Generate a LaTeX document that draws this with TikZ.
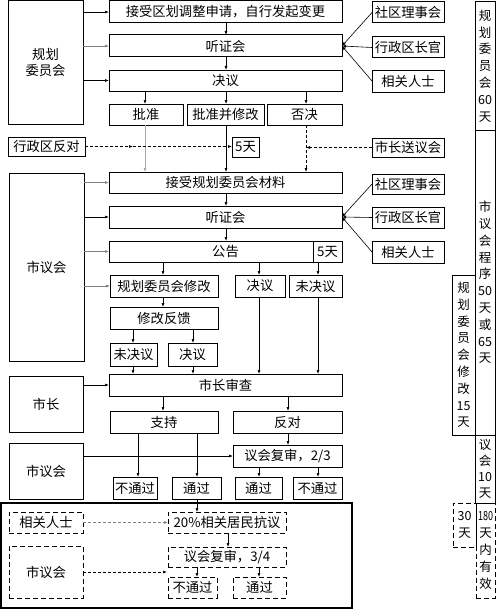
\documentclass[tikz,border=0pt]{standalone}
\usepackage{fontspec}
\setmainfont{Noto Sans CJK SC}
\usetikzlibrary{arrows.meta}
\newcommand\B[7][bx]{\node[#1,minimum width=#5pt-#3pt,minimum height=#6pt-#4pt] (#2) at (#3,#4) {#7};}
\begin{document}
\begin{tikzpicture}[x=1pt,y=-1pt,
  bx/.style={draw,line width=1pt,inner sep=0pt,outer sep=0pt,anchor=north west,align=center,font=\fontsize{13.3}{15.5}\selectfont},
  dbx/.style={bx,dash pattern=on 5pt off 3pt},
  frm/.style={bx,line width=1.4pt},
  vt/.style={bx,font=\fontsize{12.5}{16.8}\selectfont},
  vts/.style={bx,font=\fontsize{12.5}{15.8}\selectfont},
  dvt/.style={vt,dash pattern=on 5pt off 3pt},
  arr/.style={line width=0.6pt,-{Latex[length=4pt,width=3pt]}},
  darr/.style={arr,dash pattern=on 3pt off 2pt}
]
\useasboundingbox (0,0) rectangle (496,610);
\foreach \x in {133,138,145,163,193,197,226,228,259,288,306,318} {\coordinate (X\x) at (\x,0);}
% group 1
\B{gh1}{8}{1}{83}{124}{规划\\委员会}
\B{a1}{109}{1}{342}{23}{接受区划调整申请，自行发起变更}
\B{a2}{109}{35}{342}{57}{听证会}
\B{a3}{109}{70}{342}{91}{决议}
\B{b1}{109}{104}{183}{125}{批准}
\B{b2}{187}{104}{264}{125}{批准并修改}
\B{b3}{267}{104}{342}{125}{否决}
\B{r1}{372}{2}{444}{23}{社区理事会}
\B{r2}{372}{37}{444}{58}{行政区长官}
\B{r3}{372}{70}{444}{92}{相关人士}
\B{xzq}{8}{137}{85}{156}{行政区反对}
\B{d5}{232}{137}{259}{157}{5天}
\B{szs}{372}{138}{444}{157}{市长送议会}
% group 2
\B{sy1}{9}{173}{84}{361}{市议会}
\B{c1}{109}{172}{342}{193}{接受规划委员会材料}
\B{c2}{109}{206}{342}{228}{听证会}
\B{c3}{109}{241}{342}{262}{公告}
\node[font=\fontsize{13.3}{15.5}\selectfont,inner sep=0pt] (c3d) at (327.5,251.5) {5天};
\draw[line width=1pt] (c3.north -| 313,0) -- (c3.south -| 313,0);
\B{r4}{372}{174}{444}{194}{社区理事会}
\B{r5}{372}{207}{444}{228}{行政区长官}
\B{r6}{372}{241}{444}{263}{相关人士}
\B{e1}{110}{275}{218}{297}{规划委员会修改}
\B{e2}{235}{275}{285}{297}{决议}
\B{e3}{289}{275}{342}{297}{未决议}
\B{f1}{110}{307}{218}{329}{修改反馈}
\B{g1}{110}{343}{157}{366}{未决议}
\B{g2}{168}{343}{217}{366}{决议}
\B{h}{109}{374}{342}{396}{市长审查}
\B{sz}{9}{376}{83}{432}{市长}
\B{i1}{110}{411}{218}{433}{支持}
\B{i2}{233}{411}{342}{433}{反对}
\B{sy2}{9}{443}{83}{499}{市议会}
\B{j}{233}{445}{342}{467}{议会复审，2/3}
\B{k1}{113}{477}{157}{499}{不通过}
\B{k2}{172}{477}{221}{499}{通过}
\B{k3}{235}{477}{282}{499}{通过}
\B{k4}{293}{477}{342}{499}{不通过}
% bottom frame
\B[frm]{frame}{1}{503}{352}{608}{}
\B[dbx]{l1}{9}{512}{83}{533}{相关人士}
\B[dbx]{l2}{168}{512}{286}{533}{20\%相关居民抗议}
\B[dbx]{l3}{168}{547}{286}{567}{议会复审，3/4}
\B[dbx]{l4}{9}{546}{83}{598}{市议会}
\B[dbx]{l5}{168}{577}{217}{598}{不通过}
\B[dbx]{l6}{233}{577}{286}{598}{通过}
% right column
\B[vt]{t1}{475}{2}{495}{130}{规\\划\\委\\员\\会\\60\\天}
\B[vt]{t2}{475}{130}{495}{435}{市\\议\\会\\程\\序\\50\\天\\或\\65\\天}
\B[vt]{t3}{452}{275}{475}{435}{规\\划\\委\\员\\会\\修\\改\\15\\天}
\B[vts]{t4}{475}{435}{495}{503}{议\\会\\10\\天}
\B[dvt]{t5}{453}{503}{476}{547}{30\\天}
\B[dvt]{t6}{476}{503}{495}{598}{\scalebox{0.72}[1]{180}\\天\\内\\有\\效}
% connectors group 1
\draw[arr] (gh1.east |- a1.west) -- (a1.west);
\draw[arr,gray] (gh1.east |- a2.west) -- (a2.west);
\draw[arr] (gh1.east |- a3.west) -- (a3.west);
\draw[arr] (a1.south -| X226) -- (a2.north -| X226);
\draw[arr] (a2.south -| X226) -- (a3.north -| X226);
\draw[arr] (a3.south -| X145) -- (b1.north -| X145);
\draw[arr] (a3.south -| X226) -- (b2.north -| X226);
\draw[arr] (a3.south -| X306) -- (b3.north -| X306);
\draw[arr] (r1.west) -- (a2.east);
\draw[arr] (r2.west) -- (a2.east);
\draw[arr] (r3.west) -- (a2.east);
\draw[arr,gray!70] (b1.south -| X145) -- (c1.north -| X145);
\draw[arr] (b2.south -| X226) -- (c1.north -| X226);
\draw[darr] (b3.south -| X306) -- (c1.north -| X306);
\draw[darr] (xzq.east) -- (xzq.east -| X133);
\draw[darr] (xzq.east -| X133) -- (d5.west |- xzq.east);
\draw[darr] (szs.west) -- (szs.west -| X306);
% connectors group 2
\draw[arr,gray] (sy1.east |- c1.west) -- (c1.west);
\draw[arr] (sy1.east |- c2.west) -- (c2.west);
\draw[arr,gray] (sy1.east |- c3.west) -- (c3.west);
\draw[arr,gray] (sy1.east |- e1.west) -- (e1.west);
\draw[arr] (c1.south -| X226) -- (c2.north -| X226);
\draw[arr] (c2.south -| X226) -- (c3.north -| X226);
\draw[arr] (r4.west) -- (c2.east);
\draw[arr] (r5.west) -- (c2.east);
\draw[arr] (r6.west) -- (c2.east);
\draw[arr] (c3.south -| X163) -- (e1.north -| X163);
\draw[arr] (c3.south -| X259) -- (e2.north -| X259);
\draw[arr] (c3.south -| X318) -- (e3.north -| X318);
\draw[arr] (e1.south -| X163) -- (f1.north -| X163);
\draw[arr] (f1.south -| X133) -- (g1.north -| X133);
\draw[arr] (f1.south -| X193) -- (g2.north -| X193);
\draw[arr] (g1.south -| X133) -- (h.north -| X133);
\draw[arr] (g2.south -| X193) -- (h.north -| X193);
\draw[arr] (e2.south -| X259) -- (h.north -| X259);
\draw[arr] (e3.south -| X318) -- (h.north -| X318);
\draw[arr] (sz.east |- h.west) -- (h.west);
\draw[arr] (h.south -| X163) -- (i1.north -| X163);
\draw[arr] (h.south -| X288) -- (i2.north -| X288);
\draw[arr] (i2.south -| X288) -- (j.north -| X288);
\draw[arr] (sy2.east |- j.west) -- (j.west);
\draw[arr] (i1.south -| X138) -- (k1.north -| X138);
\draw[arr] (i1.south -| X197) -- (k2.north -| X197);
\draw[arr] (j.south -| X259) -- (k3.north -| X259);
\draw[arr] (j.south -| X318) -- (k4.north -| X318);
% bottom
\draw[arr] (k2.south -| X197) -- (l2.north -| X197);
\draw[darr,gray] (l1.east) -- (l2.west |- l1.east);
\draw[arr] (l2.south -| X228) -- (l3.north -| X228);
\coordinate (L4end) at (167,572);
\draw[darr] (l4.east |- L4end) -- (L4end);
\draw[arr] (l3.south -| X197) -- (l5.north -| X197);
\draw[arr] (l3.south -| X259) -- (l6.north -| X259);
\end{tikzpicture}
\end{document}
